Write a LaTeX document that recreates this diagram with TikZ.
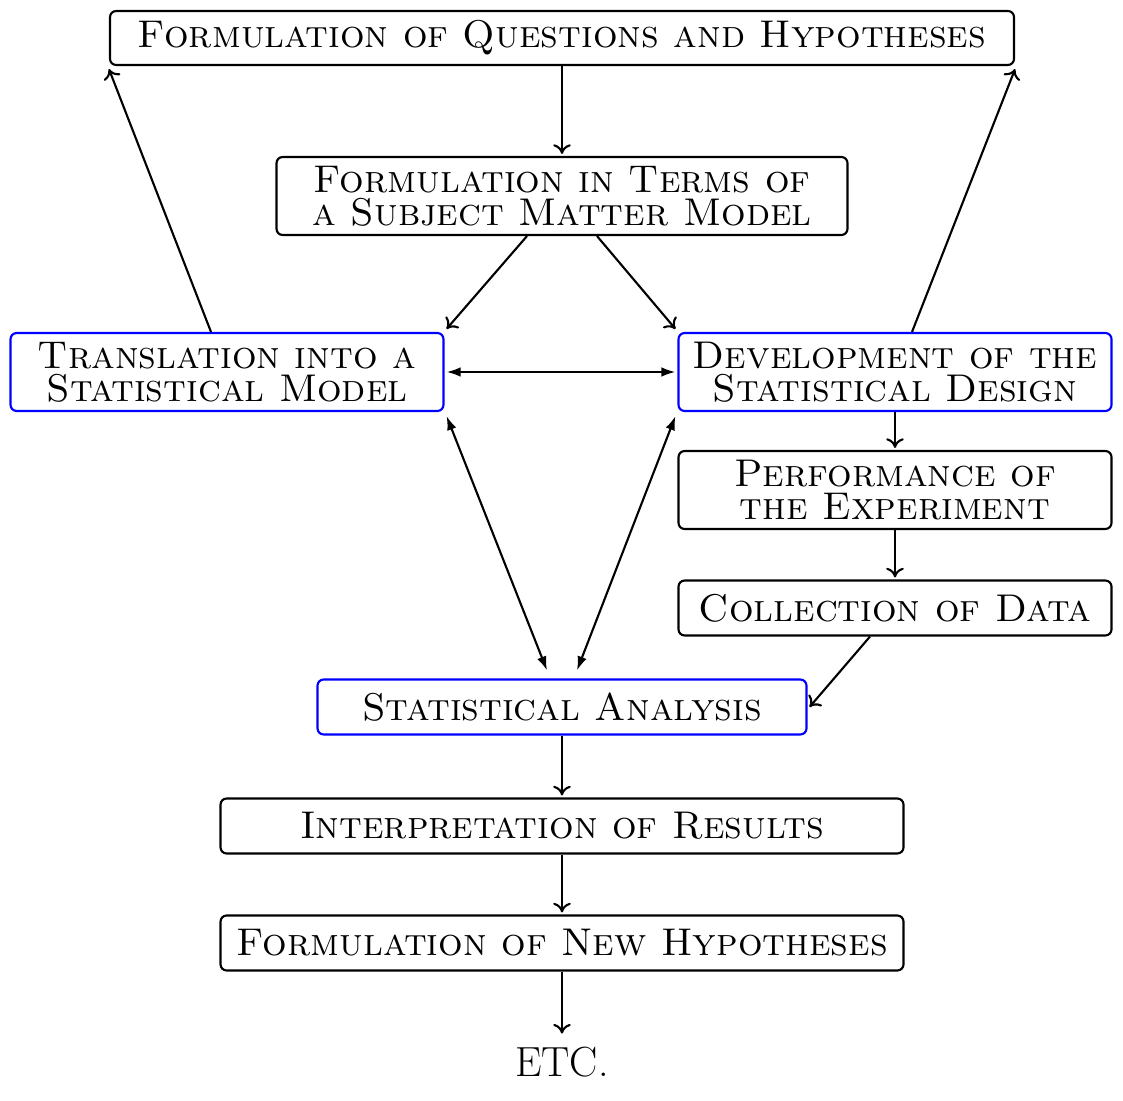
\documentclass[tikz,border=0pt]{standalone}
\usepackage{fontspec}
\usetikzlibrary{calc,arrows.meta}
\begin{document}
\begin{tikzpicture}[x=0.02cm,y=-0.02cm,
  box/.style={draw=black,line width=1.2pt,rounded corners=3.5pt,align=center,
    inner sep=0pt,font=\fontsize{22pt}{18.8pt}\selectfont\scshape},
  bluebox/.style={box,draw=blue},
  flow/.style={line width=1.2pt,-{To[length=5.5pt,width=10pt]}},
  both/.style={line width=1.2pt,{Latex[length=8pt,width=5.5pt]}-{Latex[length=8pt,width=5.5pt]}}
]
\useasboundingbox (0,0) rectangle (1123,1101);
\node[box,minimum width=904*0.02cm,minimum height=54*0.02cm] (q) at (562,38) {Formulation of Questions and Hypotheses};
\node[box,minimum width=571*0.02cm,minimum height=78*0.02cm] (sm) at (562,196) {Formulation in Terms of\\a Subject Matter Model};
\node[bluebox,minimum width=433*0.02cm,minimum height=78*0.02cm] (tr) at (227,372) {Translation into a\\Statistical Model};
\node[bluebox,minimum width=433*0.02cm,minimum height=78*0.02cm] (dv) at (895,372) {Development of the\\Statistical Design};
\node[box,minimum width=433*0.02cm,minimum height=78*0.02cm] (pf) at (895,490) {Performance of\\the Experiment};
\node[box,minimum width=433*0.02cm,minimum height=55*0.02cm] (cd) at (895,608) {Collection of Data};
\node[bluebox,minimum width=489*0.02cm,minimum height=55*0.02cm] (sa) at (562,707) {Statistical Analysis};
\node[box,minimum width=683*0.02cm,minimum height=55*0.02cm] (ir) at (562,826) {Interpretation of Results};
\node[box,minimum width=683*0.02cm,minimum height=55*0.02cm] (nh) at (562,943) {Formulation of New Hypotheses};
\node[font=\fontsize{24pt}{24pt}\selectfont,inner sep=0pt] (etc) at (562,1062) {ETC.};

\draw[flow] (q.south) -- ($(sm.north)+(0,-2)$);
\draw[flow] ($(sm.south)+(-35,0)$) -- ($(tr.north east)+(2,-3)$);
\draw[flow] ($(sm.south)+(35,0)$) -- ($(dv.north west)+(-2,-3)$);
\draw[both] ($(tr.east)+(2,0)$) -- ($(dv.west)+(-2,0)$);
\draw[both] ($(tr.south east)+(2,4)$) -- ($(sa.north)+(-15,-8)$);
\draw[both] ($(dv.south west)+(-2,4)$) -- ($(sa.north)+(15,-8)$);
\draw[flow] ($(tr.north)+(-16,0)$) -- ($(q.south west)+(0,3)$);
\draw[flow] ($(dv.north)+(17,0)$) -- ($(q.south east)+(0,3)$);
\draw[flow] (dv.south) -- ($(pf.north)+(0,-2)$);
\draw[flow] (pf.south) -- ($(cd.north)+(0,-2)$);
\draw[flow] ($(cd.south)+(-25,0)$) -- ($(sa.east)+(2,0)$);
\draw[flow] (sa.south) -- ($(ir.north)+(0,-2)$);
\draw[flow] (ir.south) -- ($(nh.north)+(0,-2)$);
\draw[flow] (nh.south) -- ($(etc.north)+(0,-13)$);
\end{tikzpicture}
\end{document}
